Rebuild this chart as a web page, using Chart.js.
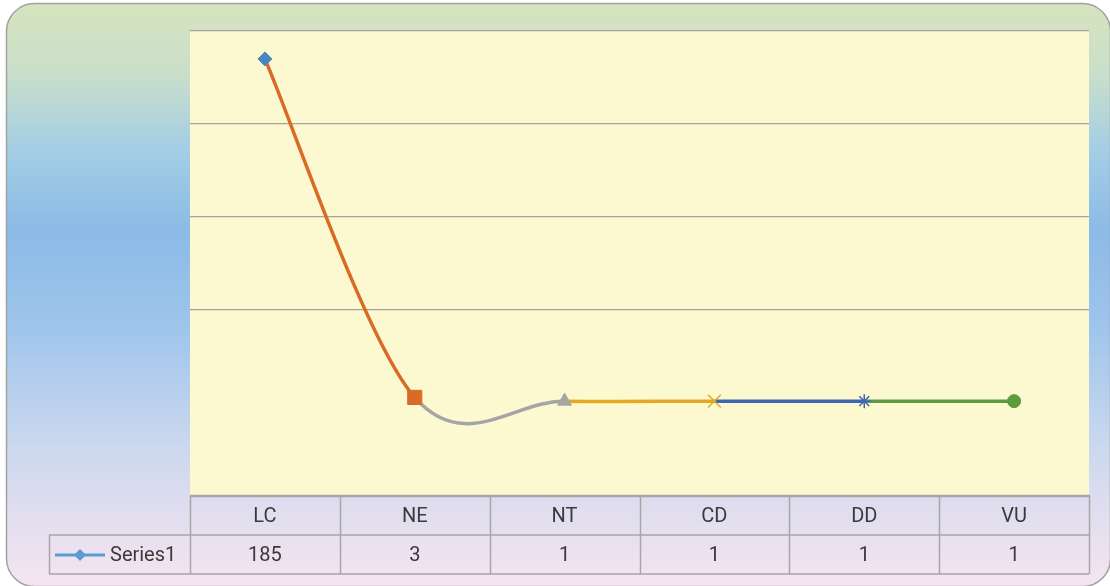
<!DOCTYPE html>
<html>
<head>
<meta charset="utf-8">
<script src="https://cdn.jsdelivr.net/npm/chart.js@4/dist/chart.umd.min.js"></script>
<style>
  html, body { margin: 0; padding: 0; background: #ffffff; }
  #wrap { width: 1110px; height: 586px; }
</style>
</head>
<body>
<div id="wrap"><canvas id="c" width="1110" height="586"></canvas></div>
<script>
// Category labels and series values
const categories = ['LC', 'NE', 'NT', 'CD', 'DD', 'VU'];
const values = [185, 3, 1, 1, 1, 1];
const seriesName = 'Series1';

// Value axis range and step
const yMin = -50;
const yMax = 200;
const yStep = 50;

// Per-point colours (each point and the segment leaving it share a colour)
const pointColors = ['#4A86C0', '#D96B26', '#A5A5A5', '#E2AA22', '#3F66B0', '#5E9A40'];
const segmentColors = ['#D96B26', '#A5A5A5', '#E2AA22', '#3F66B0', '#5E9A40'];
const pointStyles = ['rectRot', 'rect', 'triangle', 'crossRot', 'star', 'circle'];
const pointSizes = [7, 10, 8, 9, 7, 6.5];

const TEXT = '#3a3a3a';
const LINE = '#A6A6A6';
const FONT = '20px Roboto, "Liberation Sans", sans-serif';

function roundRect(ctx, x, y, w, h, r) {
  ctx.beginPath();
  ctx.moveTo(x + r, y);
  ctx.lineTo(x + w - r, y);
  ctx.arcTo(x + w, y, x + w, y + r, r);
  ctx.lineTo(x + w, y + h - r);
  ctx.arcTo(x + w, y + h, x + w - r, y + h, r);
  ctx.lineTo(x + r, y + h);
  ctx.arcTo(x, y + h, x, y + h - r, r);
  ctx.lineTo(x, y + r);
  ctx.arcTo(x, y, x + r, y, r);
  ctx.closePath();
}

// Chart background panel and plot-area fill
const backgroundPlugin = {
  id: 'panelBackground',
  beforeDraw(chart) {
    const ctx = chart.ctx;
    const a = chart.chartArea;
    ctx.save();
    const g = ctx.createLinearGradient(0, 3, 0, 588);
    g.addColorStop(0.00, '#D6E4BE');
    g.addColorStop(0.12, '#CADFCB');
    g.addColorStop(0.25, '#A4CEE5');
    g.addColorStop(0.39, '#8BBBE6');
    g.addColorStop(0.55, '#9EC4EB');
    g.addColorStop(0.76, '#CBD8EE');
    g.addColorStop(0.88, '#E2DEEF');
    g.addColorStop(1.00, '#F6E5F0');
    roundRect(ctx, 6.5, 3.5, 1104, 583, 28);
    ctx.fillStyle = g;
    ctx.fill();
    ctx.lineWidth = 1.5;
    ctx.strokeStyle = '#A0A4A0';
    ctx.stroke();
    ctx.fillStyle = '#FCF9D0';
    ctx.fillRect(a.left, a.top, a.right - a.left, a.bottom - a.top);
    ctx.restore();
  }
};

// Uniform Catmull-Rom smoothing: control points at 1/6 of the neighbour chord
const smoothPlugin = {
  id: 'catmullRom',
  beforeDatasetDraw(chart, args) {
    const meta = args.meta;
    if (!meta.dataset) return;
    meta.dataset.updateControlPoints(chart.chartArea, meta.iAxis);
    const pts = meta.data;
    for (let i = 0; i < pts.length; i++) {
      const p = pts[i];
      const prev = pts[i - 1] || p;
      const next = pts[i + 1] || p;
      const dx = (next.x - prev.x) / 6;
      const dy = (next.y - prev.y) / 6;
      p.cp1x = p.x - dx; p.cp1y = p.y - dy;
      p.cp2x = p.x + dx; p.cp2y = p.y + dy;
    }
  }
};

// Data table under the plot: category row, then series row with legend key
const dataTablePlugin = {
  id: 'dataTable',
  afterDraw(chart) {
    const ctx = chart.ctx;
    const x = chart.scales.x;
    const a = chart.chartArea;
    const n = categories.length;
    const colW = (a.right - a.left) / n;
    const rowH = 39;
    const top = a.bottom;
    const keyLeft = 49;

    ctx.save();
    ctx.strokeStyle = LINE;
    ctx.lineWidth = 1.5;
    ctx.beginPath();
    ctx.moveTo(a.left, top + rowH); ctx.lineTo(a.right, top + rowH);
    ctx.moveTo(keyLeft, top + rowH); ctx.lineTo(a.left, top + rowH);
    ctx.moveTo(keyLeft, top + 2 * rowH); ctx.lineTo(a.right, top + 2 * rowH);
    for (let i = 0; i <= n; i++) {
      const px = Math.round(a.left + i * colW) + 0.5;
      ctx.moveTo(px, top); ctx.lineTo(px, top + 2 * rowH);
    }
    ctx.moveTo(keyLeft + 0.5, top + rowH); ctx.lineTo(keyLeft + 0.5, top + 2 * rowH);
    ctx.stroke();

    // top rule of the table (plot-area bottom edge)
    ctx.lineWidth = 2.5;
    ctx.beginPath();
    ctx.moveTo(a.left, top); ctx.lineTo(a.right + 1, top);
    ctx.stroke();

    ctx.fillStyle = TEXT;
    ctx.font = FONT;
    ctx.textAlign = 'center';
    ctx.textBaseline = 'middle';
    for (let i = 0; i < n; i++) {
      const cx = x.getPixelForValue(i);
      ctx.fillText(categories[i], cx, top + rowH / 2 + 1);
      ctx.fillText(String(values[i]), cx, top + rowH * 1.5 + 1);
    }

    // legend key: line with diamond marker
    const ky = top + rowH * 1.5 + 0.5;
    ctx.strokeStyle = '#5B9BD5';
    ctx.lineWidth = 3;
    ctx.beginPath();
    ctx.moveTo(55, ky); ctx.lineTo(105, ky);
    ctx.stroke();
    ctx.fillStyle = '#5B9BD5';
    ctx.beginPath();
    ctx.moveTo(80, ky - 6); ctx.lineTo(86, ky); ctx.lineTo(80, ky + 6); ctx.lineTo(74, ky);
    ctx.closePath();
    ctx.fill();

    ctx.fillStyle = TEXT;
    ctx.textAlign = 'left';
    ctx.fillText(seriesName, 110, ky + 0.5);
    ctx.restore();
  }
};

new Chart(document.getElementById('c'), {
  type: 'line',
  data: {
    labels: categories,
    datasets: [{
      label: seriesName,
      data: values,
      borderWidth: 3.5,
      tension: 0.4,
      borderColor: segmentColors[0],
      segment: {
        borderColor: c => segmentColors[c.p0DataIndex]
      },
      pointStyle: pointStyles,
      pointRadius: pointSizes,
      pointHoverRadius: pointSizes,
      pointBackgroundColor: pointColors,
      pointBorderColor: pointColors,
      pointBorderWidth: [1, 1, 1, 1.5, 1.5, 1]
    }]
  },
  options: {
    responsive: false,
    animation: false,
    events: [],
    layout: { padding: { left: 190, right: 21, top: 31, bottom: 90 } },
    plugins: {
      legend: { display: false },
      tooltip: { enabled: false }
    },
    scales: {
      x: {
        display: false,
        offset: true
      },
      y: {
        min: yMin,
        max: yMax,
        ticks: { display: false, stepSize: yStep },
        border: { display: false },
        grid: {
          drawTicks: false,
          lineWidth: 1.2,
          color: c => (c.tick && (c.tick.value === 0 || c.tick.value === yMin)) ? 'rgba(0,0,0,0)' : '#A3A3A3'
        }
      }
    }
  },
  plugins: [backgroundPlugin, smoothPlugin, dataTablePlugin]
});
</script>
</body>
</html>
